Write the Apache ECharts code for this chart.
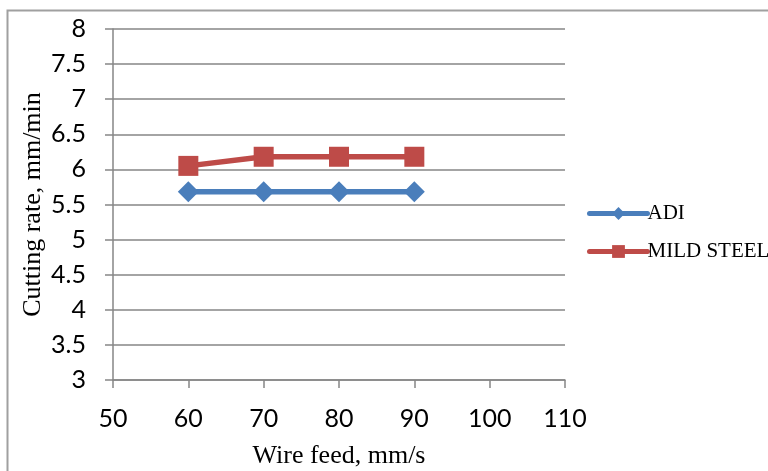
<!DOCTYPE html>
<html><head><meta charset="utf-8">
<script src="https://cdn.jsdelivr.net/npm/echarts@6/dist/echarts.min.js"></script>
<style>html,body{margin:0;padding:0;background:#fff}#c{width:768px;height:471px}</style>
</head><body><div id="c"></div>
<script>
const xValues = [60, 70, 80, 90];
const adi = [5.68, 5.68, 5.68, 5.68];
const mildSteel = [6.05, 6.18, 6.18, 6.18];
const seriesNames = ['ADI', 'MILD STEEL'];

const chart = echarts.init(document.getElementById('c'), null, {renderer: 'canvas'});
const tickFont = {fontFamily: 'Lato', fontSize: 25, color: '#000'};
chart.setOption({
  animation: false,
  backgroundColor: '#fff',
  graphic: [{type: 'rect', shape: {x: 7.5, y: 10.5, width: 800, height: 500}, style: {fill: 'none', stroke: '#a0a0a0', lineWidth: 2}, silent: true}],
  grid: {left: 113, right: 203, top: 29, bottom: 91, containLabel: false, outerBoundsMode: 'none'},
  legend: {
    orient: 'vertical', left: 582, top: 198, itemWidth: 58, itemHeight: 16, itemGap: 17,
    lineStyle: {width: 5, cap: 'round'},
    textStyle: {fontFamily: 'Liberation Serif', fontSize: 21, color: '#000', padding: [0,0,0,-5]},
    data: seriesNames
  },
  xAxis: {
    type: 'value', min: 50, max: 110, interval: 10,
    name: 'Wire feed, mm/s', nameLocation: 'middle', nameGap: 63, nameMoveOverlap: false,
    nameTextStyle: {fontFamily: 'Liberation Serif', fontSize: 26, color: '#000'},
    axisLine: {lineStyle: {color: '#868686', width: 1.5}},
    axisTick: {show: true, length: 8, lineStyle: {color: '#868686', width: 1.5}},
    axisLabel: Object.assign({margin: 26}, tickFont),
    splitLine: {show: false}
  },
  yAxis: {
    type: 'value', min: 3, max: 8, interval: 0.5,
    name: 'Cutting rate, mm/min', nameLocation: 'middle', nameGap: 67, nameMoveOverlap: false,
    nameTextStyle: {fontFamily: 'Liberation Serif', fontSize: 26, color: '#000'},
    axisLine: {show: true, lineStyle: {color: '#868686', width: 1.5}},
    axisTick: {show: true, length: 8, lineStyle: {color: '#868686', width: 1.5}},
    axisLabel: Object.assign({margin: 27}, tickFont),
    splitLine: {show: true, lineStyle: {color: '#868686', width: 1.5}}
  },
  series: [
    {name: seriesNames[0], type: 'line', data: xValues.map((x, i) => [x, adi[i]]),
     color: '#4a7ebb', symbol: 'diamond', symbolSize: 21,
     lineStyle: {width: 5.5}, itemStyle: {color: '#4a7ebb'}},
    {name: seriesNames[1], type: 'line', data: xValues.map((x, i) => [x, mildSteel[i]]),
     color: '#be4b48', symbol: 'rect', symbolSize: 20,
     lineStyle: {width: 5.5}, itemStyle: {color: '#be4b48'}}
  ]
});
</script></body></html>
